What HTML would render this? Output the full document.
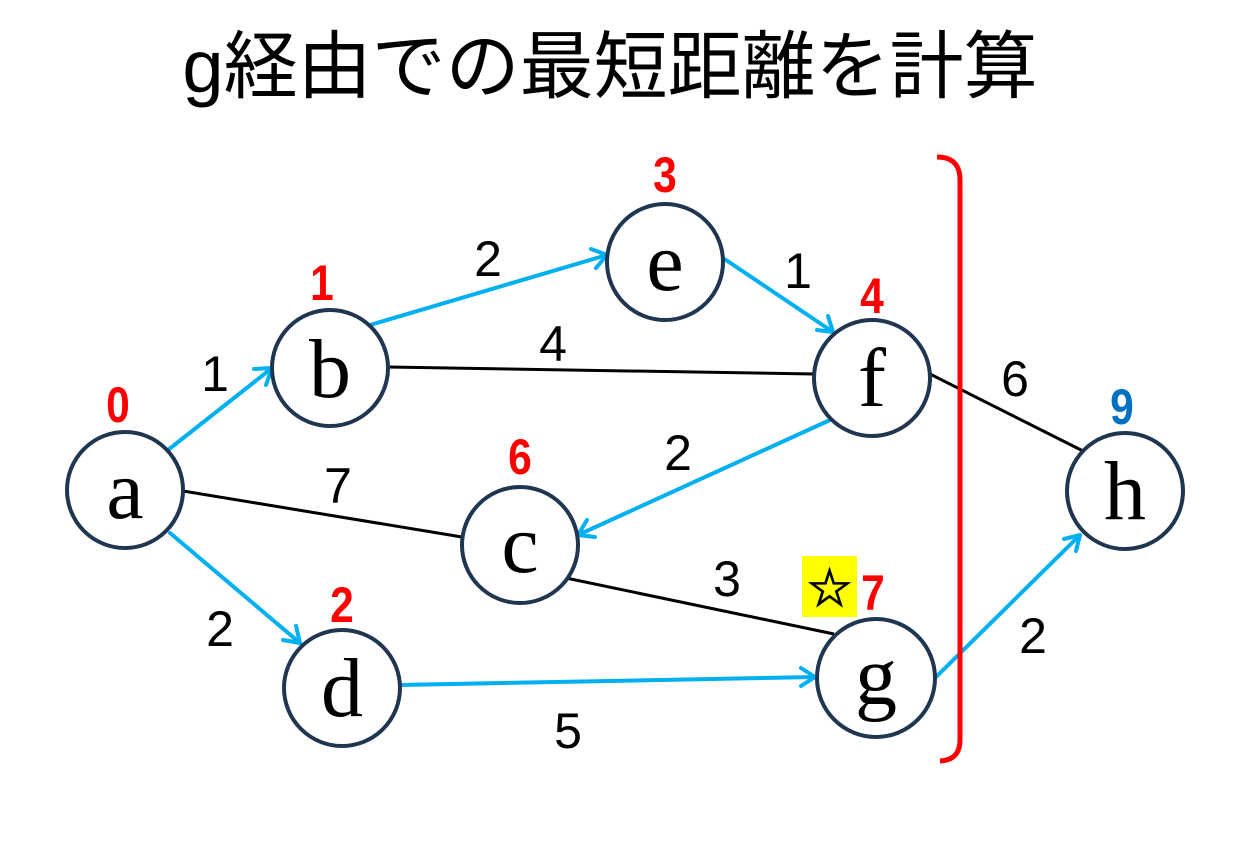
<!DOCTYPE html>
<html><head><meta charset="utf-8"><style>
html,body{margin:0;padding:0;background:#fff;}
body{width:1257px;height:858px;overflow:hidden;position:relative;}
svg{position:absolute;left:0;top:0;}
</style></head><body>
<svg width="1257" height="858" viewBox="0 0 1257 858">
<text x="610" y="92" text-anchor="middle" font-family="'Liberation Sans','Noto Sans CJK JP',sans-serif" font-size="74" fill="#000">g経由での最短距離を計算</text>
<g stroke="#000" stroke-width="3" fill="none">
<line x1="183" y1="491" x2="462" y2="537"/>
<line x1="388" y1="367" x2="814" y2="374"/>
<line x1="566" y1="578" x2="834" y2="634"/>
<line x1="930" y1="374" x2="1085" y2="452"/>
</g>
<g stroke="#00b0f0" stroke-width="4" fill="none" stroke-linecap="round" stroke-linejoin="round">
<line x1="168" y1="450" x2="272" y2="368"/><polyline points="254,369 272,368 266,385"/>
<line x1="170" y1="533" x2="300" y2="643"/><polyline points="283,640 300,643 296,626"/>
<line x1="370" y1="325" x2="607" y2="255"/><polyline points="591,249 607,255 596,268"/>
<line x1="723" y1="258" x2="833" y2="332"/><polyline points="817,330 833,332 828,316"/>
<line x1="830" y1="420" x2="578" y2="535"/><polyline points="587,520 578,535 595,537"/>
<line x1="400" y1="685" x2="815" y2="677"/><polyline points="801,668 815,677 801,686"/>
<line x1="935" y1="678" x2="1080" y2="535"/><polyline points="1064,539 1080,535 1076,551"/>
</g>
<path d="M937,157 Q960,157 960,180 L960,740 Q960,760 940,761" stroke="#ff0000" stroke-width="5" fill="none"/>
<g stroke="#1f3550" stroke-width="4" fill="#fff">
<circle cx="125" cy="490" r="58"/>
<circle cx="330" cy="368" r="58"/>
<circle cx="665" cy="262" r="58"/>
<circle cx="872" cy="378" r="58"/>
<circle cx="520" cy="545" r="58"/>
<circle cx="342" cy="688" r="58"/>
<circle cx="876" cy="678" r="59"/>
<circle cx="1125" cy="491" r="58"/>
</g>
<g font-family="'Liberation Serif',serif" font-size="84" text-anchor="middle" fill="#000">
<text x="125" y="518">a</text>
<text x="330" y="397">b</text>
<text x="665" y="290">e</text>
<text x="872" y="406">f</text>
<text x="520" y="572">c</text>
<text x="342" y="716">d</text>
<text x="876" y="704">g</text>
<text x="1125" y="519">h</text>
</g>
<g font-family="'Liberation Sans',sans-serif" font-size="50" text-anchor="middle" fill="#000">
<text x="215" y="391">1</text>
<text x="338" y="503">7</text>
<text x="220" y="646">2</text>
<text x="488" y="276">2</text>
<text x="553" y="361">4</text>
<text x="798" y="288">1</text>
<text x="1015" y="396">6</text>
<text x="678" y="470">2</text>
<text x="727" y="596">3</text>
<text x="568" y="748">5</text>
<text x="1033" y="653">2</text>
</g>
<g font-family="'Liberation Sans',sans-serif" font-size="50" font-weight="bold" text-anchor="middle" fill="#ff0000">
<text x="118" y="422" transform="translate(118 0) scale(0.85 1) translate(-118 0)">0</text>
<text x="322" y="300" transform="translate(322 0) scale(0.85 1) translate(-322 0)">1</text>
<text x="665" y="192" transform="translate(665 0) scale(0.85 1) translate(-665 0)">3</text>
<text x="872" y="313" transform="translate(872 0) scale(0.85 1) translate(-872 0)">4</text>
<text x="520" y="474" transform="translate(520 0) scale(0.85 1) translate(-520 0)">6</text>
<text x="342" y="622" transform="translate(342 0) scale(0.85 1) translate(-342 0)">2</text>
<text x="873" y="610" transform="translate(873 0) scale(0.85 1) translate(-873 0)">7</text>
<text x="1122" y="424" fill="#0070c0" transform="translate(1122 0) scale(0.85 1) translate(-1122 0)">9</text>
</g>
<rect x="802" y="556" width="55" height="61" fill="#ffff00"/>
<text x="829.5" y="606" text-anchor="middle" font-family="'DejaVu Sans',sans-serif" font-size="52" fill="#000" stroke="#000" stroke-width="1.2">☆</text>
</svg>
</body></html>
